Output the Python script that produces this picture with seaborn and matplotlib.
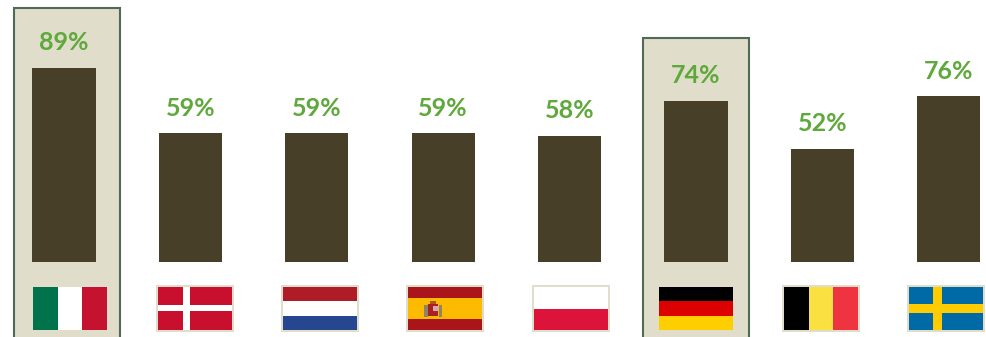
import matplotlib
matplotlib.use("Agg")
import matplotlib.pyplot as plt
from matplotlib.patches import Rectangle
import seaborn as sns

countries = ["Italy", "Denmark", "Netherlands", "Spain", "Poland", "Germany", "Belgium", "Sweden"]
values = [89, 59, 59, 59, 58, 74, 52, 76]
highlighted = ["Italy", "Germany"]

BAR = "#483F28"
PANEL = "#E0DDCB"
PANEL_EDGE = "#4F6B58"
LABEL = "#5FA83B"

# Figure size in pixels, and where the bar scale sits inside it
W, H = 986, 337
BASE_Y, FIRST_X, STEP_X, PX_PER_PCT = 262.0, 64.0, 126.4, 2.18

# Flag centres, stripe direction and colours
flag_centres = [70, 195, 320, 445, 570.5, 696, 821, 946]
FLAG_W, FLAG_H, FLAG_TOP = 74, 43, 287
stripes = {
    "Italy": ("v", [(1, "#00734D"), (1, "#FFFFFF"), (1, "#C4122F")]),
    "Denmark": ("h", [(1, "#C8102E")]),
    "Netherlands": ("h", [(1, "#AE1C28"), (1, "#FFFFFF"), (1, "#26478F")]),
    "Spain": ("h", [(1, "#AA151B"), (2, "#FDBB00"), (1, "#AA151B")]),
    "Poland": ("h", [(1, "#FFFFFF"), (1, "#DC143C")]),
    "Germany": ("h", [(1, "#000000"), (1, "#DD0000"), (1, "#FFCE00")]),
    "Belgium": ("v", [(1, "#000000"), (1, "#FBE041"), (1, "#EF3340")]),
    "Sweden": ("h", [(1, "#006AA7")]),
}
crosses = {"Denmark": ("#FFFFFF", 25, 32, 18.3, 24.3), "Sweden": ("#FECC00", 24, 33, 17.3, 25.7)}

sns.set_theme(style="white")
plt.rcParams["font.family"] = ["Lato", "DejaVu Sans"]

fig = plt.figure(figsize=(W / 100, H / 100), dpi=100, facecolor="white")

# Pixel-scaled layer for the panels and the flags
deco = fig.add_axes([0, 0, 1, 1], zorder=1)
deco.set_xlim(0, W)
deco.set_ylim(H, 0)
deco.axis("off")


def rect(x, y, w, h, color, **kw):
    deco.add_patch(Rectangle((x, y), w, h, facecolor=color, edgecolor="none", **kw))


for name, top in zip(highlighted, [8, 38]):
    centre = FIRST_X + STEP_X * countries.index(name)
    left = centre - 50 if name == "Italy" else centre - 53
    deco.add_patch(Rectangle((left, top), 106, H + 20 - top, facecolor=PANEL,
                             edgecolor=PANEL_EDGE, linewidth=1.5))

for name, cx in zip(countries, flag_centres):
    x0 = cx - FLAG_W / 2
    if name not in highlighted:
        rect(x0 - 2, FLAG_TOP - 2, FLAG_W + 4, FLAG_H + 4, PANEL)
    direction, bands = stripes[name]
    total = sum(b[0] for b in bands)
    pos = 0
    for share, colour in bands:
        if direction == "h":
            rect(x0, FLAG_TOP + FLAG_H * pos / total, FLAG_W, FLAG_H * share / total, colour)
        else:
            rect(x0 + FLAG_W * pos / total, FLAG_TOP, FLAG_W * share / total, FLAG_H, colour)
        pos += share
    if name in crosses:
        colour, a, b, c, d = crosses[name]
        rect(x0 + a, FLAG_TOP, b - a, FLAG_H, colour)
        rect(x0, FLAG_TOP + c, FLAG_W, d - c, colour)
    if name == "Spain":
        # Simplified coat of arms
        rect(x0 + 16, 305, 3.5, 12, "#8F8468")
        rect(x0 + 30.5, 305, 3.5, 12, "#8F8468")
        rect(x0 + 20, 304, 10, 12, "#A8201F")
        rect(x0 + 22, 301, 6, 3, "#B4521E")
        rect(x0 + 25, 306, 4.5, 5, "#D9A5B5")

# Bars on a percentage scale, sharing the baseline with the panels below
ax = fig.add_axes([0, 0, 1, 1], zorder=2)
ax.patch.set_alpha(0)
sns.barplot(x=countries, y=values, color=BAR, saturation=1, width=0.5, linewidth=0, ax=ax)
ax.set_xlim(-FIRST_X / STEP_X, (W - FIRST_X) / STEP_X)
ax.set_ylim(-(H - BASE_Y) / PX_PER_PCT, BASE_Y / PX_PER_PCT)
ax.axis("off")

for i, v in enumerate(values):
    ax.annotate(f"{v}%", (i, v), xytext=(0, 25 * 0.72), textcoords="offset points",
                ha="center", va="center", color=LABEL, fontsize=18, fontweight="bold")

fig.savefig("out.png", dpi=100)
